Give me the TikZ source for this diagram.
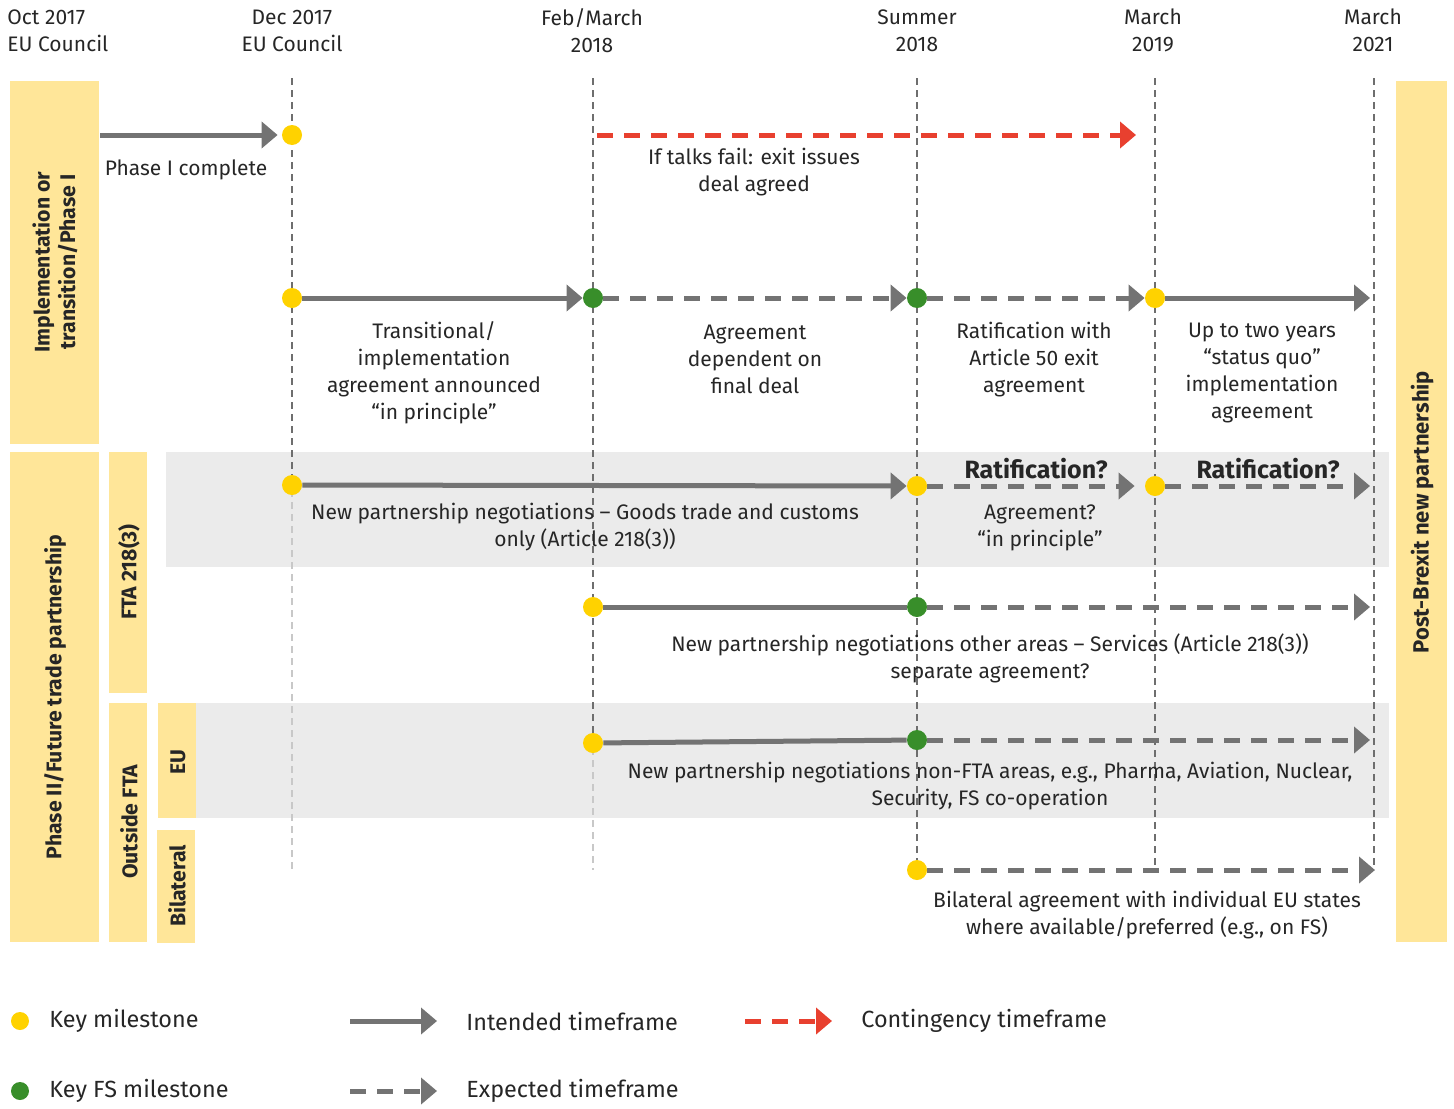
\documentclass[tikz,border=0pt]{standalone}
\usepackage{fontspec}
\setmainfont{Fira Sans}
\usetikzlibrary{arrows.meta}
\definecolor{arrowgray}{HTML}{737373}
\definecolor{vgray}{HTML}{6E6E6E}
\definecolor{vlight}{HTML}{C8C8C8}
\definecolor{msyellow}{HTML}{FFD200}
\definecolor{fsgreen}{HTML}{388E2A}
\definecolor{redc}{HTML}{E8402F}
\definecolor{paleyellow}{HTML}{FFE699}
\definecolor{bandgray}{HTML}{EBEBEB}
\definecolor{txt}{HTML}{262626}
\begin{document}
\begin{tikzpicture}[x=0.5pt,y=-0.5pt,
  solidarrow/.style={draw=arrowgray, line width=2.5pt, -{Triangle[length=8pt,width=13pt]}},
  solidline/.style={draw=arrowgray, line width=2.5pt},
  dasharrow/.style={draw=arrowgray, line width=2.5pt, dash pattern=on 8pt off 5.5pt, -{Triangle[length=8pt,width=13pt]}},
  redarrow/.style={draw=redc, line width=2.5pt, dash pattern=on 8pt off 5.5pt, -{Triangle[length=8pt,width=13pt]}},
  vline/.style={draw=vgray, line width=1.25pt, dash pattern=on 3.5pt off 2.5pt},
  vlinelight/.style={draw=vlight, line width=1.25pt, dash pattern=on 3.5pt off 2.5pt},
  ydot/.style={circle, fill=msyellow, minimum size=10pt, inner sep=0pt},
  gdot/.style={circle, fill=fsgreen, minimum size=10pt, inner sep=0pt},
  lbl/.style={align=center, font=\fontsize{10.5}{13.5}\selectfont, text=txt, inner sep=0pt},
  hdr/.style={align=center, font=\fontsize{10.5}{13.5}\selectfont, text=txt, inner sep=0pt},
  ratlbl/.style={font=\fontsize{12.5}{14}\selectfont\bfseries, text=txt, inner sep=0pt},
  sidebox/.style={fill=paleyellow, draw=none},
  sidelbl/.style={rotate=90, align=center, font=\fontsize{10.6}{12.8}\selectfont\bfseries, text=txt, inner sep=0pt},
  leglbl/.style={anchor=west, font=\fontsize{11.7}{14}\selectfont, text=txt, inner sep=0pt}
]
\useasboundingbox (0,0) rectangle (1454,1108);

% gray bands
\fill[bandgray] (166,452) rectangle (1389,567);
\fill[bandgray] (196,703) rectangle (1389,818);

% side boxes
\fill[sidebox] (10,81) rectangle (99,444);
\node[sidelbl] (s1) at (55,262) {Implementation or\\transition/Phase I};
\fill[sidebox] (10,452) rectangle (99,942);
\node[sidelbl] (s2) at (55,697) {Phase II/Future trade partnership};
\fill[sidebox] (109,452) rectangle (147,693);
\node[sidelbl] (s3) at (129,572) {FTA 218(3)};
\fill[sidebox] (109,703) rectangle (147,942);
\node[sidelbl] (s4) at (129,822) {Outside FTA};
\fill[sidebox] (158,703) rectangle (196,818);
\node[sidelbl] (s5) at (178,762) {EU};
\fill[sidebox] (157,830) rectangle (195,943);
\node[sidelbl] (s6) at (177,886) {Bilateral};
\fill[sidebox] (1396,81) rectangle (1447,942);
\node[sidelbl, font=\fontsize{11}{13}\selectfont\bfseries] (s7) at (1422,512) {Post-Brexit new partnership};

% headers
\node[hdr, anchor=west, align=left] (h0) at (7,30.5) {Oct 2017\\EU Council};
\node[hdr] (h1) at (292,30.5) {Dec 2017\\EU Council};
\node[hdr] (h2) at (592,30.5) {Feb/March\\2018};
\node[hdr] (h3) at (917,30.5) {Summer\\2018};
\node[hdr] (h4) at (1153,30.5) {March\\2019};
\node[hdr] (h5) at (1373,30.5) {March\\2021};

% vertical dashed lines
\coordinate (v1t) at (292,78); \coordinate (v1m) at (292,490); \coordinate (v1b) at (292,870);
\coordinate (v2t) at (593,78); \coordinate (v2m) at (593,748); \coordinate (v2b) at (593,870);
\coordinate (v3t) at (917,78); \coordinate (v3b) at (917,870);
\coordinate (v4t) at (1155,78); \coordinate (v4b) at (1155,870);
\coordinate (v5t) at (1374,78); \coordinate (v5b) at (1374,870);
\draw[vline] (v1t) -- (v1m);
\draw[vlinelight] (v1m) -- (v1b);
\draw[vline] (v2t) -- (v2m);
\draw[vlinelight] (v2m) -- (v2b);
\draw[vline] (v3t) -- (v3b);
\draw[vline] (v4t) -- (v4b);
\draw[vline] (v5t) -- (v5b);

% row 1
\coordinate (p1s) at (100,135);
\node[ydot] (d1) at (292,135) {};
\draw[solidarrow, shorten >=2pt] (p1s) -- (d1);
\node[lbl] (t1) at (186,170) {Phase I complete};
\coordinate (r1s) at (597,135);
\coordinate (r1e) at (1136,135);
\draw[redarrow] (r1s) -- (r1e);
\node[lbl] (t2) at (754,172) {If talks fail: exit issues\\deal agreed};

% row 2
\node[ydot] (a1) at (292,298) {};
\node[gdot] (a2) at (593,298) {};
\node[gdot] (a3) at (917,298) {};
\node[ydot] (a4) at (1155,298) {};
\coordinate (a5) at (1370,298);
\draw[solidarrow] (a1) -- (a2);
\draw[dasharrow] (a2) -- (a3);
\draw[dasharrow] (a3) -- (a4);
\draw[solidarrow] (a4) -- (a5);
\node[lbl] (t3) at (434,373) {Transitional/\\implementation\\agreement announced\\“in principle”};
\node[lbl] (t4) at (755,359.5) {Agreement\\dependent on\\final deal};
\node[lbl] (t5) at (1034,359.5) {Ratification with\\Article 50 exit\\agreement};
\node[lbl] (t6) at (1262,373) {Up to two years\\“status quo”\\implementation\\agreement};

% row 3
\node[ydot] (b1) at (292,485) {};
\node[ydot] (b2) at (917,486) {};
\node[ydot] (b3) at (1155,486) {};
\coordinate (b4) at (1370,486);
\draw[solidarrow] (b1) -- (b2);
\draw[dasharrow, shorten >=5pt] (b2) -- (b3);
\draw[dasharrow] (b3) -- (b4);
\node[ratlbl] (t7) at (1036,469) {Ratification?};
\node[ratlbl] (t8) at (1268,469) {Ratification?};
\node[lbl] (t9) at (1040,527.5) {Agreement?\\“in principle”};
\node[lbl] (t10) at (585,527.5) {New partnership negotiations – Goods trade and customs\\only (Article 218(3))};

% row 4
\node[ydot] (c1) at (593,607) {};
\node[gdot] (c2) at (917,607) {};
\coordinate (c3) at (1370,607);
\draw[solidline] (c1) -- (c2);
\draw[dasharrow] (c2) -- (c3);
\node[lbl] (t11) at (990,658) {New partnership negotiations other areas – Services (Article 218(3))\\separate agreement?};

% row 5
\node[ydot] (e1) at (593,743) {};
\node[gdot] (e2) at (917,740) {};
\coordinate (e3) at (1370,740);
\draw[solidline] (e1) -- (e2);
\draw[dasharrow] (e2) -- (e3);
\node[lbl] (t12) at (990,786) {New partnership negotiations non-FTA areas, e.g., Pharma, Aviation, Nuclear,\\Security, FS co-operation};

% row 6
\node[ydot] (f1) at (917,870) {};
\coordinate (f2) at (1375,870);
\draw[dasharrow] (f1) -- (f2);
\node[lbl] (t13) at (1147,915) {Bilateral agreement with individual EU states\\where available/preferred (e.g., on FS)};

% legend
\node[ydot, minimum size=9pt] (L1) at (20,1021) {};
\node[leglbl] (L1t) at (49,1021) {Key milestone};
\node[gdot, minimum size=9pt] (L2) at (20,1091) {};
\node[leglbl] (L2t) at (49,1091) {Key FS milestone};
\coordinate (L3s) at (350,1021); \coordinate (L3e) at (437,1021);
\draw[solidarrow] (L3s) -- (L3e);
\node[leglbl] (L3t) at (466,1021) {Intended timeframe};
\coordinate (L4s) at (350,1091); \coordinate (L4e) at (437,1091);
\draw[dasharrow] (L4s) -- (L4e);
\node[leglbl] (L4t) at (466,1091) {Expected timeframe};
\coordinate (L5s) at (745,1021); \coordinate (L5e) at (832,1021);
\draw[redarrow] (L5s) -- (L5e);
\node[leglbl] (L5t) at (861,1021) {Contingency timeframe};
\end{tikzpicture}
\end{document}
